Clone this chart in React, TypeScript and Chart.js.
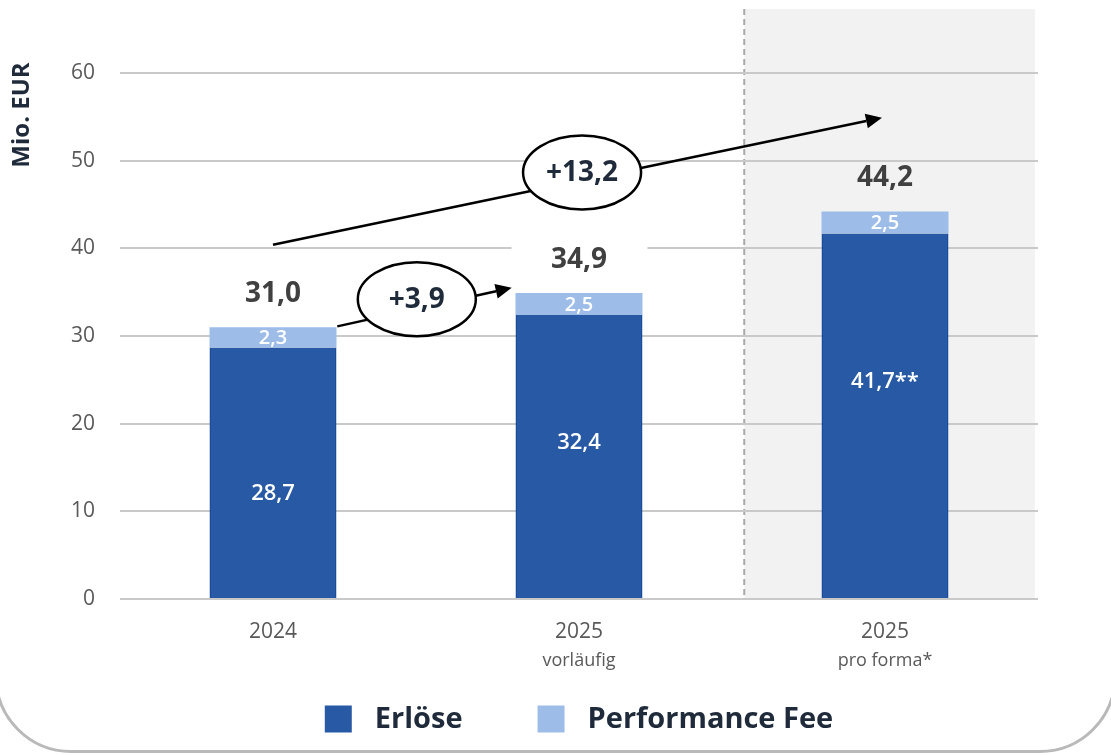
import React, { useEffect, useRef } from "react";
import { Chart, registerables } from "chart.js";

Chart.register(...registerables);

// ---- data ----
const categories = ["2024", "2025", "2025"];
const subLabels = ["", "vorläufig", "pro forma*"];
const erloese = [28.7, 32.4, 41.7];
const performanceFee = [2.3, 2.5, 2.5];
const erloeseSuffix = ["", "", "**"];
const erloeseLabelAt = [12.0, 17.8, 24.8]; // value where the inner label sits
const seriesNames = ["Erlöse", "Performance Fee"];
const yMin = 0;
const yMax = 60;
const yStep = 10;
const yTitle = "Mio. EUR";
const shadeFrom = 1.54; // category position where the pro-forma zone starts
// growth arrows, in (category index, value) units
const arrowFrom = [[0.21, 31.1], [0.0, 40.4]];
const arrowTo = [[0.78, 35.5], [1.99, 54.9]];
const bubbleAt = [[0.47, 34.2], [1.01, 48.65]];
const arrowCompare = [[0, 1], [0, 2]];

const FONT = '"Open Sans", "Noto Sans", sans-serif';
const DARK = "#2859a5";
const LIGHT = "#9dbde8";
const NAVY = "#1f2a3a";
const GREY_TXT = "#595959";

const fmt = (v: number) => v.toFixed(1).replace(".", ",");
const totals = erloese.map((v, i) => Math.round((v + performanceFee[i]) * 10) / 10);

const deco = {
  id: "deco",
  beforeDraw(chart: any) {
    const { ctx, chartArea, scales } = chart;
    const x = scales.x;
    ctx.save();
    // card outline
    ctx.strokeStyle = "#b9b9b9";
    ctx.lineWidth = 3;
    ctx.beginPath();
    ctx.roundRect(-4, -300, 1119, 1051.5, 75);
    ctx.stroke();
    // pro-forma zone
    const x0 = x.getPixelForValue(shadeFrom);
    const top = chartArea.top - 64;
    ctx.fillStyle = "#f2f2f2";
    ctx.fillRect(x0, top, chartArea.right - 3 - x0, chartArea.bottom - top);
    ctx.strokeStyle = "#a9a9a9";
    ctx.lineWidth = 2;
    ctx.setLineDash([6, 4]);
    ctx.beginPath();
    ctx.moveTo(x0, top);
    ctx.lineTo(x0, chartArea.bottom - 4);
    ctx.stroke();
    ctx.restore();
  },
  afterDatasetsDraw(chart: any) {
    const { ctx, scales } = chart;
    const x = scales.x;
    const y = scales.y;
    const x0 = x.getPixelForValue(shadeFrom);
    const m0 = chart.getDatasetMeta(0).data;
    const m1 = chart.getDatasetMeta(1).data;
    ctx.save();
    ctx.textAlign = "center";
    ctx.textBaseline = "middle";
    categories.forEach((_, i) => {
      const b0 = m0[i];
      const b1 = m1[i];
      // inner labels
      ctx.fillStyle = "#ffffff";
      ctx.font = `600 22px ${FONT}`;
      ctx.fillText(fmt(erloese[i]) + erloeseSuffix[i], b0.x, y.getPixelForValue(erloeseLabelAt[i]));
      ctx.font = `600 20px ${FONT}`;
      ctx.fillText(fmt(performanceFee[i]), b1.x, (b1.y + b1.base) / 2 + 1);
      // totals
      const cy = b1.y - 33;
      if (b1.x < x0) {
        ctx.fillStyle = "#ffffff";
        ctx.fillRect(b1.x - b1.width / 2 - 4, cy - 14, b1.width + 9, 28);
      }
      ctx.fillStyle = "#404040";
      ctx.font = `bold 28px ${FONT}`;
      ctx.fillText(fmt(totals[i]), b1.x, cy);
    });
    ctx.restore();
  },
  afterDraw(chart: any) {
    const { ctx, chartArea, scales } = chart;
    const x = scales.x;
    const y = scales.y;
    ctx.save();
    // sub labels of x axis
    ctx.textAlign = "center";
    ctx.textBaseline = "middle";
    ctx.fillStyle = GREY_TXT;
    ctx.font = `18px ${FONT}`;
    subLabels.forEach((s, i) => {
      if (s) ctx.fillText(s, x.getPixelForValue(i), chartArea.bottom + 62);
    });
    // y title
    ctx.save();
    ctx.translate(22, 115);
    ctx.rotate(-Math.PI / 2);
    ctx.fillStyle = NAVY;
    ctx.font = `bold 24px ${FONT}`;
    ctx.fillText(yTitle, 0, 0);
    ctx.restore();
    // arrows + bubbles
    arrowFrom.forEach((f, k) => {
      const sx = x.getPixelForValue(f[0]);
      const sy = y.getPixelForValue(f[1]);
      const ex = x.getPixelForValue(arrowTo[k][0]);
      const ey = y.getPixelForValue(arrowTo[k][1]);
      const ang = Math.atan2(ey - sy, ex - sx);
      const hl = 16;
      const hw = 7.5;
      ctx.strokeStyle = "#000";
      ctx.fillStyle = "#000";
      ctx.lineWidth = 2.5;
      ctx.setLineDash([]);
      ctx.beginPath();
      ctx.moveTo(sx, sy);
      ctx.lineTo(ex - Math.cos(ang) * hl, ey - Math.sin(ang) * hl);
      ctx.stroke();
      ctx.beginPath();
      ctx.moveTo(ex, ey);
      ctx.lineTo(ex - Math.cos(ang) * hl - Math.sin(ang) * hw, ey - Math.sin(ang) * hl + Math.cos(ang) * hw);
      ctx.lineTo(ex - Math.cos(ang) * hl + Math.sin(ang) * hw, ey - Math.sin(ang) * hl - Math.cos(ang) * hw);
      ctx.closePath();
      ctx.fill();
      const bx = x.getPixelForValue(bubbleAt[k][0]);
      const by = y.getPixelForValue(bubbleAt[k][1]);
      ctx.beginPath();
      ctx.ellipse(bx, by, 59, 37, 0, 0, Math.PI * 2);
      ctx.fillStyle = "#ffffff";
      ctx.fill();
      ctx.lineWidth = 2.5;
      ctx.stroke();
      const [a, b] = arrowCompare[k];
      const d = totals[b] - totals[a];
      ctx.fillStyle = NAVY;
      ctx.font = `bold 28px ${FONT}`;
      ctx.textAlign = "center";
      ctx.textBaseline = "middle";
      ctx.fillText((d >= 0 ? "+" : "") + fmt(d), bx, by + 1);
    });
    // legend
    const colors = [DARK, LIGHT];
    ctx.font = `bold 29px ${FONT}`;
    const box = 27;
    const gap = 23;
    const itemGap = 75;
    const widths = seriesNames.map((n) => box + gap + ctx.measureText(n).width);
    const total = widths.reduce((s, w) => s + w, 0) + itemGap * (seriesNames.length - 1);
    let lx = (chartArea.left + chartArea.right) / 2 - total / 2;
    const ly = 719;
    ctx.textAlign = "left";
    ctx.textBaseline = "middle";
    seriesNames.forEach((n, i) => {
      ctx.fillStyle = colors[i];
      ctx.fillRect(lx, ly - box / 2, box, box);
      ctx.fillStyle = NAVY;
      ctx.fillText(n, lx + box + gap, ly + 1);
      lx += widths[i] + itemGap;
    });
    ctx.restore();
  },
};

export default function App() {
  const ref = useRef<HTMLCanvasElement>(null);
  useEffect(() => {
    const chart = new Chart(ref.current as HTMLCanvasElement, {
      type: "bar",
      data: {
        labels: categories,
        datasets: [
          {
            label: seriesNames[0],
            data: erloese,
            backgroundColor: DARK,
            borderColor: "#1a4c9c",
            borderWidth: { left: 1.5, right: 1.5, top: 0, bottom: 0 } as any,
            borderSkipped: false,
            barPercentage: 0.415,
            categoryPercentage: 1,
          },
          {
            label: seriesNames[1],
            data: performanceFee,
            backgroundColor: LIGHT,
            borderWidth: 0,
            barPercentage: 0.415,
            categoryPercentage: 1,
          },
        ],
      },
      options: {
        responsive: false,
        animation: false,
        layout: { padding: { left: 0, right: 73, top: 73, bottom: 0 } },
        plugins: { legend: { display: false }, tooltip: { enabled: false } },
        scales: {
          x: {
            stacked: true,
            grid: { display: false, drawTicks: false },
            border: { display: false },
            ticks: { color: GREY_TXT, font: { family: FONT, size: 21 }, padding: 20 },
            afterFit: (s: any) => {
              s.height = 156;
            },
          },
          y: {
            stacked: true,
            min: yMin,
            max: yMax,
            grid: { color: "#c9c9c9", lineWidth: 2, drawTicks: false },
            border: { display: false },
            ticks: { stepSize: yStep, color: GREY_TXT, font: { family: FONT, size: 21 }, padding: 25 },
            afterFit: (s: any) => {
              s.width = 120;
            },
          },
        },
      },
      plugins: [deco],
    });
    return () => chart.destroy();
  }, []);
  return (
    <div style={{ position: "fixed", left: 0, top: 0, width: 1111, height: 755, background: "#fff" }}>
      <canvas ref={ref} width={1111} height={755} style={{ display: "block", width: 1111, height: 755 }} />
    </div>
  );
}
